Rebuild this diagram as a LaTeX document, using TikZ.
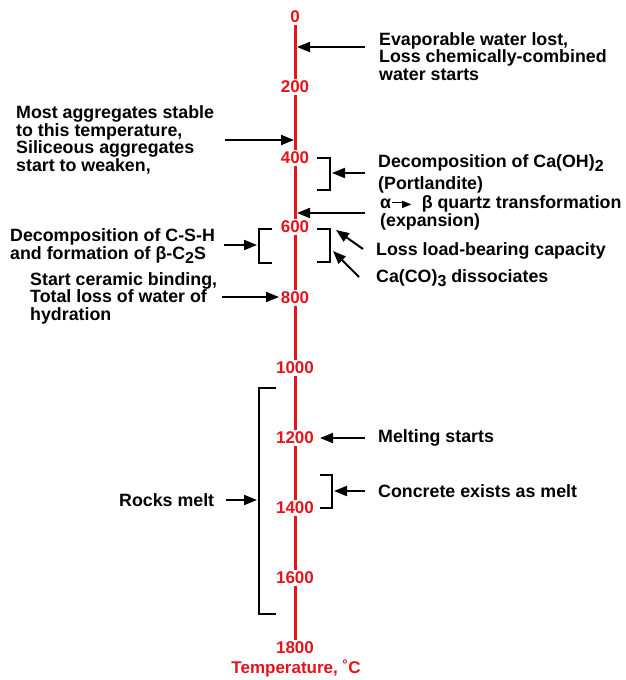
\documentclass[tikz,border=0pt]{standalone}
\usepackage{fontspec}
\setmainfont{Liberation Sans}
\newfontfamily\djv{DejaVu Sans}
\usetikzlibrary{arrows.meta}
\definecolor{axred}{HTML}{E5131B}
\newcommand\lowr[1]{\raisebox{-4pt}{\fontsize{16}{16}\selectfont #1}}
\begin{document}
\begin{tikzpicture}[x=1pt,y=-1pt,
  txt/.style={font=\fontsize{17.8}{17.5}\selectfont\bfseries, align=left, inner sep=0pt, anchor=west},
  num/.style={font=\fontsize{17}{17}\selectfont\bfseries, text=axred, inner sep=2pt},
  axis/.style={draw=axred, line width=3pt},
  arr/.style={draw=black, line width=2pt, -{Triangle[length=13pt,width=10pt]}},
  brk/.style={draw=black, line width=1.5pt}]
\useasboundingbox (0,0) rectangle (626,680);
% axis labels
\node[num] (l0) at (295,17) {0};
\node[num] (l200) at (295,87) {200};
\node[num] (l400) at (295,158) {400};
\node[num] (l600) at (295,227) {600};
\node[num] (l800) at (295,298) {800};
\node[num] (l1000) at (295,368) {1000};
\node[num] (l1200) at (295,438) {1200};
\node[num] (l1400) at (295,508) {1400};
\node[num] (l1600) at (295,578) {1600};
\node[num] (l1800) at (295,648) {1800};
\node[num] (ttl) at (296,668) {Temperature, ˚C};
\draw[axis] (l0.south) -- (l200.north);
\draw[axis] (l200.south) -- (l400.north);
\draw[axis] (l400.south) -- (l600.north);
\draw[axis] (l600.south) -- (l800.north);
\draw[axis] (l800.south) -- (l1000.north);
\draw[axis] (l1000.south) -- (l1200.north);
\draw[axis] (l1200.south) -- (l1400.north);
\draw[axis] (l1400.south) -- (l1600.north);
\draw[axis] (l1600.south) -- (l1800.north);
% texts
\node[txt] (ev) at (379,56.5) {Evaporable water lost,\\Loss chemically-combined\\water starts};
\node[txt] (most) at (16,140) {Most aggregates stable\\to this temperature,\\Siliceous aggregates\\start to weaken,};
\node[txt] (caoh) at (378,174) {Decomposition of Ca(OH)\lowr{2}\\[5pt](Portlandite)};
\node[txt] (alq) at (380,213) {α\hspace{1pt}\rule[5.5pt]{12pt}{1.6pt}\hspace{-2pt}\raisebox{1.5pt}{\djv\fontsize{10}{10}\selectfont\scalebox{1.25}[1]{▶}}\hspace{10pt}β quartz transformation\\(expansion)};
\node[txt] (loss) at (376,251) {Loss load-bearing capacity};
\node[txt] (caco) at (376,278) {Ca(CO)\lowr{3} dissociates};
\node[txt] (csh) at (10,246) {Decomposition of C-S-H\\and formation of β-C\lowr{2}S};
\node[txt] (cer) at (30,298) {Start ceramic binding,\\Total loss of water of\\hydration};
\node[txt] (rock) at (119,500) {Rocks melt};
\node[txt] (melt) at (378,438) {Melting starts};
\node[txt] (conc) at (378,491) {Concrete exists as melt};
% coordinates
\coordinate (a1s) at (365,47); \coordinate (a1e) at (297,47);
\coordinate (a2s) at (225,140); \coordinate (a2e) at (294,140);
\coordinate (a3s) at (365,173); \coordinate (a3e) at (332,173);
\coordinate (a4s) at (365,213); \coordinate (a4e) at (297,213);
\coordinate (a5s) at (363,249); \coordinate (a5e) at (336,230);
\coordinate (a6s) at (359,277); \coordinate (a6e) at (333,251);
\coordinate (a7s) at (224,245); \coordinate (a7e) at (257,245);
\coordinate (a8s) at (222,297); \coordinate (a8e) at (279,297);
\coordinate (a9s) at (226,500); \coordinate (a9e) at (257,500);
\coordinate (a10s) at (365,438); \coordinate (a10e) at (320,438);
\coordinate (a11s) at (365,491); \coordinate (a11e) at (334,491);
% brackets
\draw[brk] (317,158) -- (330,158) -- (330,190) -- (317,190);
\draw[brk] (317,229) -- (330,229) -- (330,262) -- (317,262);
\draw[brk] (272,229) -- (259,229) -- (259,263) -- (272,263);
\draw[brk] (276,388) -- (259,388) -- (259,614) -- (276,614);
\draw[brk] (320,475) -- (332,475) -- (332,508) -- (320,508);
% arrows
\draw[arr] (a1s) -- (a1e);
\draw[arr] (a2s) -- (a2e);
\draw[arr] (a3s) -- (a3e);
\draw[arr] (a4s) -- (a4e);
\draw[arr] (a5s) -- (a5e);
\draw[arr] (a6s) -- (a6e);
\draw[arr] (a7s) -- (a7e);
\draw[arr] (a8s) -- (a8e);
\draw[arr] (a9s) -- (a9e);
\draw[arr] (a10s) -- (a10e);
\draw[arr] (a11s) -- (a11e);
\end{tikzpicture}
\end{document}
